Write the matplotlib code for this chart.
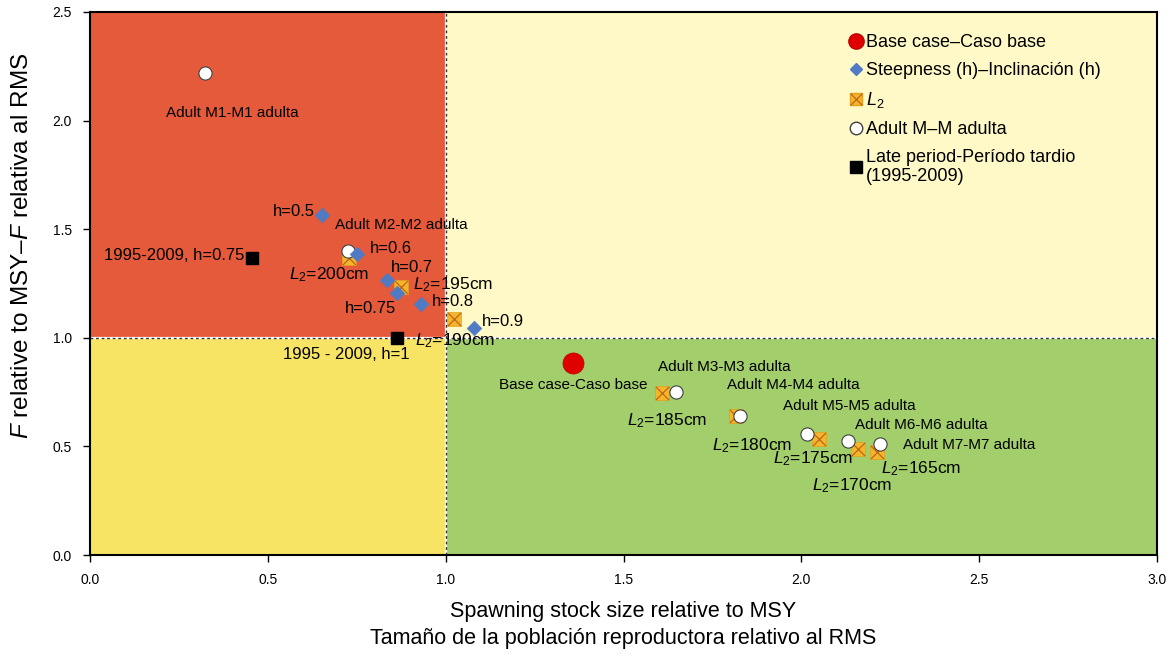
import matplotlib
matplotlib.use("Agg")
import matplotlib.pyplot as plt
from matplotlib.legend_handler import HandlerTuple
from matplotlib.lines import Line2D

plt.rcParams['font.family'] = ['Liberation Sans', 'DejaVu Sans']
plt.rcParams['mathtext.fontset'] = 'custom'
plt.rcParams['mathtext.rm'] = 'Liberation Sans'
plt.rcParams['mathtext.it'] = 'Liberation Sans:italic'

# ---- data ----
base_x = [1.358]
base_y = [0.884]

adultM_labels = ["Adult M1-M1 adulta", "Adult M2-M2 adulta", "Adult M3-M3 adulta",
                 "Adult M4-M4 adulta", "Adult M5-M5 adulta", "Adult M6-M6 adulta",
                 "Adult M7-M7 adulta"]
adultM_x = [0.323, 0.725, 1.647, 1.827, 2.016, 2.131, 2.221]
adultM_y = [2.219, 1.400, 0.750, 0.640, 0.557, 0.525, 0.511]

steep_labels = ["h=0.5", "h=0.6", "h=0.7", "h=0.75", "h=0.8", "h=0.9"]
steep_x = [0.652, 0.751, 0.835, 0.863, 0.931, 1.080]
steep_y = [1.565, 1.386, 1.266, 1.206, 1.156, 1.045]

L2_labels = ["$L_2$=200cm", "$L_2$=195cm", "$L_2$=190cm", "$L_2$=185cm",
             "$L_2$=180cm", "$L_2$=175cm", "$L_2$=170cm", "$L_2$=165cm"]
L2_x = [0.728, 0.874, 1.023, 1.608, 1.816, 2.050, 2.159, 2.213]
L2_y = [1.367, 1.234, 1.087, 0.746, 0.640, 0.534, 0.488, 0.474]

late_labels = ["1995-2009, h=0.75", "1995 - 2009, h=1"]
late_x = [0.455, 0.863]
late_y = [1.367, 1.000]

# label anchor positions (text placement, data coords) and alignment
adultM_text = [(0.40, 2.036, 'center'), (0.689, 1.52, 'left'), (1.597, 0.866, 'left'),
               (1.791, 0.783, 'left'), (1.948, 0.686, 'left'), (2.151, 0.599, 'left'),
               (2.286, 0.506, 'left')]
steep_text = [(0.632, 1.58, 'right'), (0.787, 1.409, 'left'), (0.846, 1.325, 'left'),
              (0.717, 1.137, 'left'), (0.961, 1.168, 'left'), (1.102, 1.073, 'left')]
L2_text = [(0.559, 1.289, 'left'), (0.908, 1.246, 'left'), (0.914, 0.985, 'left'),
           (1.510, 0.617, 'left'), (1.749, 0.502, 'left'), (1.920, 0.442, 'left'),
           (2.030, 0.318, 'left'), (2.224, 0.400, 'left')]
late_text = [(0.433, 1.381, 'right'), (0.543, 0.925, 'left')]
base_text = [(1.15, 0.783, 'left')]

fig = plt.figure(figsize=(11.75, 6.64), dpi=100)
ax = fig.add_axes([0.0766, 0.164, 0.9081, 0.818])

ax.set_xlim(0, 3.0)
ax.set_ylim(0, 2.5)

# quadrants
ax.axvspan(0, 1, ymin=0.4, ymax=1, color='#E65A3C', lw=0, zorder=0)
ax.axvspan(1, 3, ymin=0.4, ymax=1, color='#FEF9C6', lw=0, zorder=0)
ax.axvspan(0, 1, ymin=0, ymax=0.4, color='#F8E464', lw=0, zorder=0)
ax.axvspan(1, 3, ymin=0, ymax=0.4, color='#A2CE6B', lw=0, zorder=0)

for f in (ax.axhline, ax.axvline):
    f(1.0, color='white', lw=1.6, zorder=1)
    f(1.0, color='#333333', lw=1.0, ls=(0, (2, 2)), zorder=1.1)

# markers
ax.scatter(base_x, base_y, s=230, c='#E00000', edgecolors='#C00000', lw=0.5, zorder=5)
ax.scatter(steep_x, steep_y, s=55, marker='D', c='#4F7BC4', edgecolors='#4F7BC4', lw=0.5, zorder=4)
ax.scatter(L2_x, L2_y, s=110, marker='s', c='#F3B62B', edgecolors='#E3A01F', lw=0.5, zorder=3)
ax.scatter(L2_x, L2_y, s=90, marker='x', c='#C0651A', lw=0.9, zorder=3.5)
ax.scatter(adultM_x, adultM_y, s=90, c='white', edgecolors='#404040', lw=0.8, zorder=3.8)
ax.scatter(late_x, late_y, s=75, marker='s', c='black', zorder=4)

for lab, (tx, ty, ha) in zip(adultM_labels, adultM_text):
    ax.text(tx, ty, lab, fontsize=11, ha=ha, va='center', zorder=6)
for lab, (tx, ty, ha) in zip(steep_labels, steep_text):
    ax.text(tx, ty, lab, fontsize=12, ha=ha, va='center', zorder=6)
for lab, (tx, ty, ha) in zip(L2_labels, L2_text):
    ax.text(tx, ty, lab, fontsize=12.5, ha=ha, va='center', zorder=6)
for lab, (tx, ty, ha) in zip(late_labels, late_text):
    ax.text(tx, ty, lab, fontsize=12, ha=ha, va='center', zorder=6)
for (tx, ty, ha) in base_text:
    ax.text(tx, ty, "Base case-Caso base", fontsize=11, ha=ha, va='center', zorder=6)

# legend
h_base = Line2D([], [], ls='', marker='o', ms=11, mfc='#E00000', mec='#C00000')
h_steep = Line2D([], [], ls='', marker='D', ms=6, mfc='#4F7BC4', mec='#4F7BC4')
h_L2a = Line2D([], [], ls='', marker='s', ms=9, mfc='#F3B62B', mec='#E3A01F')
h_L2b = Line2D([], [], ls='', marker='x', ms=8, mec='#C0651A', mew=0.9)
h_adult = Line2D([], [], ls='', marker='o', ms=9, mfc='white', mec='#404040')
h_late = Line2D([], [], ls='', marker='s', ms=8, mfc='black', mec='black')
leg = ax.legend([h_base, h_steep, (h_L2a, h_L2b), h_adult, h_late],
                ["Base case\u2013Caso base", "Steepness (h)\u2013Inclinaci\u00f3n (h)", "$L_2$",
                 "Adult M\u2013M adulta", "Late period-Per\u00edodo tardio\n(1995-2009)"],
                handler_map={tuple: HandlerTuple(ndivide=1)},
                loc='upper left', bbox_to_anchor=(0.7056, 0.972), frameon=False,
                fontsize=13, handlelength=0.6, handletextpad=0.3, labelspacing=0.6,
                borderaxespad=0)

# axes styling
for s in ax.spines.values():
    s.set_linewidth(1.5)
    s.set_color('black')
ax.set_xticks([0, 0.5, 1.0, 1.5, 2.0, 2.5, 3.0])
ax.set_yticks([0, 0.5, 1.0, 1.5, 2.0, 2.5])
ax.set_xticklabels(['0.0', '0.5', '1.0', '1.5', '2.0', '2.5', '3.0'])
ax.set_yticklabels(['0.0', '0.5', '1.0', '1.5', '2.0', '2.5'])
ax.tick_params(direction='out', length=5, width=1, labelsize=10, colors='black', pad=8)

ax.set_xlabel("Spawning stock size relative to MSY\nTama\u00f1o de la poblaci\u00f3n reproductora relativo al RMS",
              fontsize=15.5, labelpad=10, linespacing=1.4)
ax.set_ylabel("$F$ relative to MSY\u2013$F$ relativa al RMS", fontsize=17.5)
ax.yaxis.set_label_coords(-0.053, 0.57)

fig.patch.set_facecolor('white')
fig.savefig("out.png", dpi=100)
